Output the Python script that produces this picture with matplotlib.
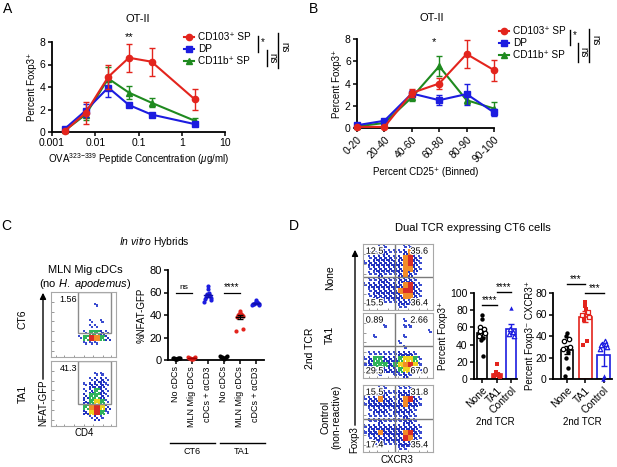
import matplotlib
matplotlib.use('Agg')
import matplotlib.pyplot as plt
import matplotlib.patheffects as pe
import numpy as np
from matplotlib.lines import Line2D
from matplotlib.patches import Rectangle, FancyArrowPatch

plt.rcParams['font.family'] = ['Liberation Sans', 'DejaVu Sans']
plt.rcParams['mathtext.fontset'] = 'custom'
plt.rcParams['mathtext.rm'] = 'Liberation Sans'
plt.rcParams['mathtext.it'] = 'Liberation Sans:italic'

# ---- data: panel A (OVA titration) ----
conc = [0.002, 0.006, 0.02, 0.06, 0.2, 2]
a_cd103 = [0.1, 1.7, 4.9, 6.6, 6.25, 2.9]
a_cd103_err = [0.1, 0.95, 1.05, 1.25, 1.25, 0.95]
a_dp = [0.3, 1.9, 3.95, 2.4, 1.55, 0.7]
a_dp_err = [0.1, 0.6, 0.85, 0.2, 0.15, 0.15]
a_cd11b = [0.15, 1.55, 4.75, 3.5, 2.6, 1.0]
a_cd11b_err = [0.1, 0.5, 1.0, 0.6, 0.4, 0.25]

# ---- data: panel B (CD25 bins) ----
bins = ['0-20', '20-40', '40-60', '60-80', '80-90', '90-100']
b_cd103 = [0.1, 0.1, 3.15, 4.0, 6.65, 5.2]
b_cd103_err = [0.05, 0.05, 0.4, 0.45, 1.3, 0.95]
b_dp = [0.25, 0.65, 3.1, 2.5, 3.05, 1.4]
b_dp_err = [0.1, 0.15, 0.3, 0.45, 0.95, 0.3]
b_cd11b = [0.15, 0.45, 2.75, 5.55, 2.5, 1.75]
b_cd11b_err = [0.05, 0.1, 0.3, 0.9, 0.35, 0.55]

series_names = ['CD103\u207a SP', 'DP', 'CD11b\u207a SP']

# ---- data: panel C (hybrids) ----
c_groups = ['No cDCs', 'MLN Mig cDCs', 'cDCs + \u03b1CD3'] * 2
c_vals = [
    [0.5, 0.8, 1.0, 1.2, 1.5, 1.5, 1.8, 2.0, 2.2],
    [0.5, 0.8, 1.2, 1.5, 2.0, 2.2, 2.5, 3.0],
    [66, 63, 60, 59, 57, 56, 55, 54, 53, 52],
    [1.0, 1.5, 2.0, 2.5, 2.8, 3.0, 3.5, 4.0],
    [44, 42, 41, 41, 40, 40, 39, 38, 28, 26],
    [53, 52, 51.5, 51, 50.5, 50, 50, 49.5, 49, 48.5],
]
c_hybrids = ['CT6', 'TA1']
c_gate_pct = ['1.56', '41.3']

# flow density grids (0 = no events, 1..6 = low..high), top row first
c_flow_ct6 = [
    "000000000000",
    "000000000000",
    "000000001000",
    "000000000000",
    "000000000000",
    "000000010100",
    "000000011000",
    "000000133210",
    "000001365320",
    "000000111000",
    "000000000000",
    "000000000000",
]
c_flow_ta1 = [
    "000000000000",
    "000000000000",
    "000000001100",
    "000000012210",
    "000000122210",
    "000000123210",
    "000000233210",
    "000000234310",
    "000000356420",
    "000000246310",
    "000000012100",
    "000000000000",
]

# ---- data: panel D (dual TCR) ----
d_rows = ['None', 'TA1', 'Control\n(non-reactive)']
d_quads = [['12.5', '35.6', '15.5', '36.4'],
           ['0.89', '2.66', '29.5', '67.0'],
           ['15.5', '31.8', '17.4', '35.4']]
d_flow_none = [
    "00011000110000",
    "01222111252100",
    "01222212562100",
    "12222222562100",
    "01222222552100",
    "01121112521000",
    "01122112221000",
    "12222222562100",
    "01222225662100",
    "01222222552100",
    "00011112221000",
    "00000001100000",
]
d_flow_ta1 = [
    "00000000000000",
    "00000000100000",
    "00001000110000",
    "00000000000001",
    "00100000100000",
    "00000001000000",
    "00000000100000",
    "01111112221000",
    "12332223443100",
    "12333234564100",
    "01222223442100",
    "00010011210000",
]
d_flow_ctrl = [
    "00011001110000",
    "01222112221000",
    "12252212562100",
    "12222222522100",
    "01222122221000",
    "01111111211000",
    "01121111221000",
    "12222222222100",
    "12252222562100",
    "01222222652100",
    "00121112221000",
    "00000001100000",
]

d_labels = ['None', 'TA1', 'Control']
foxp3_mean = [53, 5.5, 58]
foxp3_err = [4.5, 1.5, 5.5]
foxp3_filled = [[75, 70, 48, 45, 27], [17, 8, 6, 5, 4, 3, 2], [83]]
foxp3_open = [[60, 58, 56, 53, 50], [], [58, 55, 52, 50]]
cxcr3_mean = [27, 58, 22]
cxcr3_err = [3.5, 5, 10]
cxcr3_filled = [[43, 40, 25, 20, 10, 3], [72, 68, 65, 55, 35, 32], [3, 0]]
cxcr3_open = [[37, 35, 30, 28], [62, 60, 58], [35, 33, 33, 32, 30, 28]]

RED = '#e3241d'
BLUE = '#1c1ce0'
GREEN = '#1f8a1f'

W, H = 617, 467
fig = plt.figure(figsize=(W / 100, H / 100), dpi=100)


def box(l, t, r, b):
    return fig.add_axes([l / W, 1 - b / H, (r - l) / W, (b - t) / H])


def ftext(x, y, s, **kw):
    fig.text(x / W, 1 - y / H, s, **kw)


def fline(xs, ys, **kw):
    fig.add_artist(Line2D([x / W for x in xs], [1 - y / H for y in ys], **kw))


def farrow(x, y0, y1):
    fig.add_artist(FancyArrowPatch((x / W, 1 - y0 / H), (x / W, 1 - y1 / H),
                                   transform=fig.transFigure, arrowstyle='-|>',
                                   mutation_scale=9, lw=1.0, color='black'))


def style(ax, fs=7.5):
    for s in ['top', 'right']:
        ax.spines[s].set_visible(False)
    for s in ['left', 'bottom']:
        ax.spines[s].set_linewidth(1.3)
    ax.tick_params(labelsize=fs, width=1.1, length=3, pad=1.5)


def line_series(ax, x, ys, errs):
    cols = [RED, BLUE, GREEN]
    marks = ['o', 's', '^']
    zs = [5, 4, 3]
    for y, e, c, m, z in zip(ys, errs, cols, marks, zs):
        ax.errorbar(x, y, yerr=e, color=c, marker=m, ms=4.5, lw=1.5,
                    elinewidth=1.0, ecolor=c, capsize=2.5, capthick=1.0,
                    zorder=z, clip_on=False)


def legend_and_sig(ax, x0, y0, sig):
    cols = [RED, BLUE, GREEN]
    marks = ['o', 's', '^']
    hs = [Line2D([], [], color=c, marker=m, ms=4.5, lw=1.5) for c, m in zip(cols, marks)]
    ax.legend(hs, series_names, loc='upper left', bbox_to_anchor=(x0 / W, 1 - y0 / H),
              bbox_transform=fig.transFigure, frameon=False, fontsize=7.2,
              handlelength=1.0, handletextpad=0.4, labelspacing=0.2,
              borderpad=0, borderaxespad=0)
    for xs, ys, lab, tx, ty, rot in sig:
        fline([xs, xs], ys, color='black', lw=1.0)
        ftext(tx, ty, lab, fontsize=7, ha='center', va='center', rotation=rot)


# ================= Panel A =================
axA = box(52, 42, 225, 132)
line_series(axA, conc, [a_cd103, a_dp, a_cd11b], [a_cd103_err, a_dp_err, a_cd11b_err])
axA.set_xscale('log')
axA.set_xlim(0.001, 10)
axA.set_ylim(0, 8)
axA.set_yticks([0, 2, 4, 6, 8])
axA.set_xticks([0.001, 0.01, 0.1, 1, 10])
axA.set_xticklabels(['0.001', '0.01', '0.1', '1', '10'])
axA.minorticks_off()
style(axA)
axA.set_ylabel('Percent Foxp3\u207a', fontsize=7, labelpad=2)
axA.set_xlabel(r'OVA$^{323\mathrm{-}339}$ Peptide Concentration ($\mu$g/ml)',
               fontsize=7, labelpad=2)
axA.text(0.06, 8.4, '**', ha='center', va='center', fontsize=8)
ftext(138, 19, 'OT-II', fontsize=8, ha='center', va='center')
legend_and_sig(axA, 184, 32, [
    (258, [36, 52], '*', 263, 42, 0),
    (267, [50, 66], 'ns', 272, 58, -90),
    (278, [33, 68], 'ns', 284, 47, -90),
])
ftext(8, 9, 'A', fontsize=10, ha='center', va='center')

# ================= Panel B =================
axB = box(357, 39, 494, 128)
xb = np.arange(len(bins))
line_series(axB, xb, [b_cd103, b_dp, b_cd11b], [b_cd103_err, b_dp_err, b_cd11b_err])
axB.set_xlim(0, len(bins) - 1)
axB.set_ylim(0, 8)
axB.set_yticks([0, 2, 4, 6, 8])
axB.set_xticks(xb)
axB.set_xticklabels(bins, rotation=45, ha='right', rotation_mode='anchor')
style(axB)
axB.set_ylabel('Percent Foxp3\u207a', fontsize=7, labelpad=2)
axB.set_xlabel('Percent CD25\u207a (Binned)', fontsize=7, labelpad=2)
axB.text(2.8, 7.7, '*', ha='center', va='center', fontsize=8)
ftext(432, 18, 'OT-II', fontsize=8, ha='center', va='center')
legend_and_sig(axB, 499, 26, [
    (570, [30, 45], '*', 575, 35, 0),
    (578, [43, 62], 'ns', 583, 52, -90),
    (589, [29, 62], 'ns', 595, 40, -90),
])
ftext(313, 9, 'B', fontsize=10, ha='center', va='center')

# ================= flow plot helper =================
flow_colors = ['#3a4cd0', '#2233c0', '#2fb35a', '#eed21e', '#f28c28', '#d92b25']
dot_order = [(1, 1), (0, 0), (2, 2), (0, 2), (2, 0), (1, 0), (0, 1), (2, 1), (1, 2)]
dots_per_level = [0, 2, 4, 7, 8, 9, 9]


def flow(ax, rows):
    g = np.array([[int(ch) for ch in r] for r in rows])
    nr, nc = g.shape
    xs, ys, cs = [], [], []
    for r in range(nr):
        for c in range(nc):
            k = g[r, c]
            for (i, j) in dot_order[:dots_per_level[k]]:
                xs.append((c + (i + 0.5) / 3) / nc)
                ys.append(1 - (r + (j + 0.5) / 3) / nr)
                cs.append(flow_colors[k - 1])
    ax.scatter(xs, ys, s=2.4, c=cs, marker='s', lw=0, zorder=1)
    ax.set_xlim(0, 1)
    ax.set_ylim(0, 1)
    for s in ax.spines.values():
        s.set_color('#a8a8a8')
        s.set_linewidth(0.8)
    ax.set_xticks([0.08, 0.2, 0.35, 0.5, 0.65, 0.8, 0.92])
    ax.set_yticks([0.1, 0.25, 0.4, 0.55, 0.7, 0.85])
    ax.tick_params(length=1.8, width=0.6, color='#888888', direction='in',
                   labelbottom=False, labelleft=False)


halo = [pe.withStroke(linewidth=1.8, foreground='white')]

# ================= Panel C =================
for i, (grid, t, b) in enumerate([(c_flow_ct6, 292, 357), (c_flow_ta1, 361, 426)]):
    ax = box(51, t, 116, b)
    flow(ax, grid)
    gate_y = 0.37 if i == 0 else 0.34
    ax.add_patch(Rectangle((0.42, gate_y), 0.51, 1 - gate_y - 0.005, fill=False,
                           ec='#8c8c8c', lw=1.0))
    ax.text(0.27, 0.88, c_gate_pct[i], transform=ax.transAxes, fontsize=6.5,
            ha='center', va='center')
    ftext(23, (t + b) / 2 - 5 + 5 * i, c_hybrids[i], rotation=90, fontsize=7.5,
          ha='center', va='center')

ftext(85, 270, 'MLN Mig cDCs', fontsize=8, ha='center', va='center')
ftext(85, 284, r'(no $\it{H.\ apodemus}$)', fontsize=8, ha='center', va='center')
farrow(43, 382, 290)
ftext(43, 403, 'NFAT-GFP', rotation=90, fontsize=7, ha='center', va='center')
ftext(84, 433, 'CD4', fontsize=7, ha='center', va='center')

axC = box(168, 270, 264, 360)
c_colors = ['black', RED, BLUE, 'black', RED, BLUE]
c_mean_colors = ['black', '#a00000', '#1010b0', 'black', 'black', '#1010b0']
for i, vals in enumerate(c_vals):
    n = len(vals)
    offs = np.where(np.arange(n) % 2 == 0, 1, -1) * np.linspace(0.0, 0.24, n)
    axC.scatter(i + offs, vals, s=9, color=c_colors[i], zorder=3, clip_on=False, lw=0)
    m = np.mean(vals)
    sem = np.std(vals, ddof=1) / np.sqrt(n)
    axC.plot([i - 0.25, i + 0.25], [m, m], color=c_mean_colors[i], lw=1.0, zorder=4)
    axC.errorbar(i, m, yerr=sem, color=c_mean_colors[i], capsize=2.5, lw=0.9,
                 elinewidth=0.9, zorder=4)
axC.set_xlim(-0.5, 5.5)
axC.set_ylim(0, 80)
axC.set_yticks([0, 20, 40, 60, 80])
axC.set_xticks(range(len(c_groups)))
axC.set_xticklabels(c_groups, rotation=90)
style(axC, fs=8)
axC.tick_params(axis='x', labelsize=6.5)
axC.set_ylabel('%NFAT-GFP', fontsize=7, labelpad=2)
axC.plot([0, 1], [60, 60], color='black', lw=0.9)
axC.text(0.5, 61, 'ns', ha='center', va='bottom', fontsize=6)
axC.plot([3, 4], [60, 60], color='black', lw=0.9)
axC.text(3.5, 60, '****', ha='center', va='bottom', fontsize=7)
fline([170, 215], [443, 443], color='black', lw=1.0)
fline([220, 265], [443, 443], color='black', lw=1.0)
ftext(192, 451, 'CT6', fontsize=6.5, ha='center', va='center')
ftext(242, 451, 'TA1', fontsize=6.5, ha='center', va='center')
ftext(154, 242, r'$\it{In\ vitro}$ Hybrids', fontsize=7.5, ha='center', va='center')
ftext(6, 226, 'C', fontsize=10, ha='center', va='center')

# ================= Panel D =================
ftext(294, 226, 'D', fontsize=10, ha='center', va='center')
ftext(473, 228, 'Dual TCR expressing CT6 cells', fontsize=8, ha='center', va='center')

d_boxes = [(244, 310), (313, 378), (385, 452)]
for i, (grid, (t, b)) in enumerate(zip([d_flow_none, d_flow_ta1, d_flow_ctrl], d_boxes)):
    ax = box(363, t, 433, b)
    flow(ax, grid)
    ax.axvline(0.46, color='#7a7a7a', lw=1.0)
    ax.axhline(0.5, color='#7a7a7a', lw=1.0)
    ul, ur, ll, lr = d_quads[i]
    kw = dict(transform=ax.transAxes, fontsize=6.5, zorder=5, path_effects=halo)
    ax.text(0.04, 0.96, ul, ha='left', va='top', **kw)
    ax.text(0.93, 0.96, ur, ha='right', va='top', **kw)
    ax.text(0.04, 0.04, ll, ha='left', va='bottom', **kw)
    ax.text(0.93, 0.04, lr, ha='right', va='bottom', **kw)

ftext(330, 278, d_rows[0], rotation=90, fontsize=7.5, ha='center', va='center')
ftext(330, 335, d_rows[1], rotation=90, fontsize=7.5, ha='center', va='center')
ftext(331, 417, d_rows[2], rotation=90, fontsize=7.5, ha='center', va='center',
      multialignment='center', linespacing=1.1)
ftext(310, 348, '2nd TCR', rotation=90, fontsize=7.5, ha='center', va='center')
farrow(355, 428, 247)
ftext(354, 440, 'Foxp3', rotation=90, fontsize=7, ha='center', va='center')
ftext(397, 460, 'CXCR3', fontsize=7, ha='center', va='center')

d_cols = ['black', RED, BLUE]
d_marks = ['o', 's', '^']


def bar_panel(ax, means, errs, filled, opened, ymax, ylabel):
    xs = np.arange(len(means))
    for i in xs:
        ax.bar(i, means[i], width=0.68, facecolor='white', edgecolor=d_cols[i], lw=1.2,
               zorder=1)
        ax.errorbar(i, means[i], yerr=errs[i], color=d_cols[i], capsize=2.5,
                    elinewidth=1.0, capthick=1.0, zorder=2)
        pts = filled[i] + opened[i]
        n = len(pts)
        offs = np.where(np.arange(n) % 2 == 0, 1, -1) * np.linspace(0.0, 0.2, n)
        nf = len(filled[i])
        ax.scatter(i + offs[:nf], filled[i], s=10, marker=d_marks[i], color=d_cols[i],
                   zorder=3, lw=0, clip_on=False)
        if opened[i]:
            ax.scatter(i + offs[nf:], opened[i], s=10, marker=d_marks[i],
                       facecolor='white', edgecolor=d_cols[i], lw=0.9, zorder=3,
                       clip_on=False)
    ax.set_ylim(0, ymax)
    ax.set_yticks(np.arange(0, ymax + 1, 20))
    ax.set_xticks(xs)
    ax.set_xticklabels(d_labels, rotation=45, ha='right', rotation_mode='anchor')
    style(ax, fs=7.5)
    ax.set_ylabel(ylabel, fontsize=7, labelpad=2)
    ax.set_xlabel('2nd TCR', fontsize=7, labelpad=1)


axD1 = box(474, 293, 517, 379)
bar_panel(axD1, foxp3_mean, foxp3_err, foxp3_filled, foxp3_open, 100, 'Percent Foxp3\u207a')
axD1.set_xlim(-0.55, 2.4)
axD1.plot([0, 1], [86, 86], color='black', lw=1.0, clip_on=False)
axD1.text(0.5, 86, '****', ha='center', va='bottom', fontsize=7)
axD1.plot([1, 2], [101, 101], color='black', lw=1.0, clip_on=False)
axD1.text(1.5, 101, '****', ha='center', va='bottom', fontsize=7)

axD2 = box(553, 293, 612, 379)
bar_panel(axD2, cxcr3_mean, cxcr3_err, cxcr3_filled, cxcr3_open, 80,
          'Percent Foxp3\u207b CXCR3\u207a')
axD2.yaxis.labelpad = 0
axD2.set_xlim(-0.75, 2.45)
axD2.plot([0, 1], [88, 88], color='black', lw=1.0, clip_on=False)
axD2.text(0.5, 88, '***', ha='center', va='bottom', fontsize=7)
axD2.plot([1, 2], [80, 80], color='black', lw=1.0, clip_on=False)
axD2.text(1.5, 80, '***', ha='center', va='bottom', fontsize=7)

fig.savefig('out.png', dpi=100)
